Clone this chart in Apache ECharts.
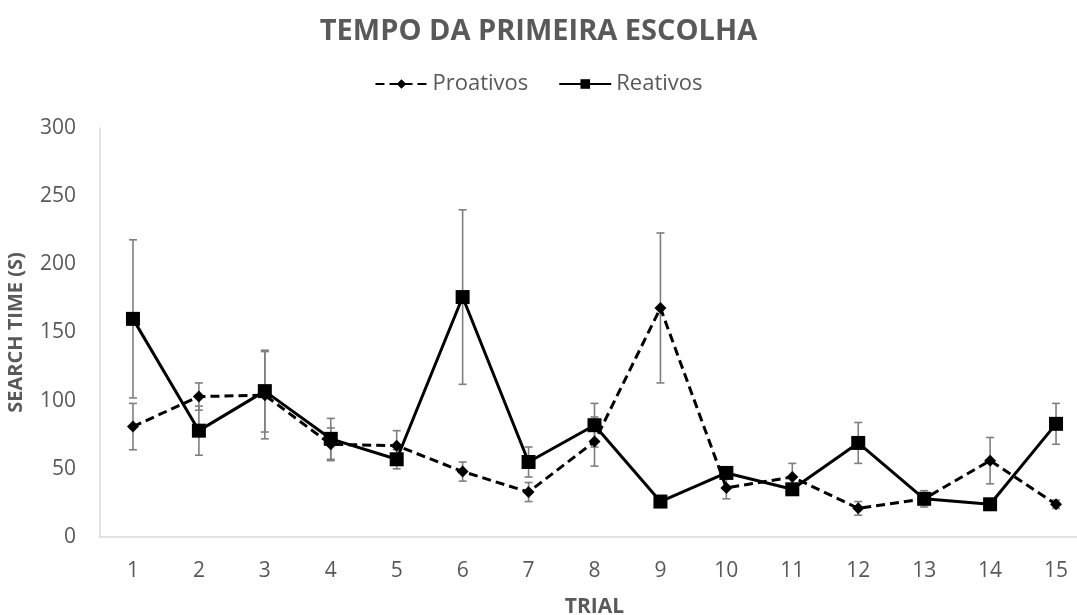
<!DOCTYPE html>
<html>
<head>
<meta charset="utf-8">
<title>Tempo da primeira escolha</title>
<script src="https://cdn.jsdelivr.net/npm/echarts@6/dist/echarts.min.js"></script>
<style>
  html, body { margin: 0; padding: 0; background: #fff; }
  #chart { width: 1077px; height: 615px; }
</style>
</head>
<body>
<div id="chart"></div>
<script>
// ── Data ──
const trials = ['1', '2', '3', '4', '5', '6', '7', '8', '9', '10', '11', '12', '13', '14', '15'];
const proativos = [81, 103, 104, 68, 67, 48, 33, 70, 168, 36, 44, 21, 28, 56, 24];
const proativosErr = [17, 10, 32, 12, 11, 7, 7, 18, 55, 8, 10, 5, 6, 17, 3];
const reativos = [160, 78, 107, 72, 57, 176, 55, 82, 26, 47, 35, 69, 28, 24, 83];
const reativosErr = [58, 18, 30, 15, 7, 64, 11, 16, 2, 3, 2, 15, 3, 2, 15];
const yTicks = [0, 50, 100, 150, 200, 250, 300];

const GRAY = '#595959';
const FONT = '"Open Sans", sans-serif';

// 误差线: [index, low, high]
function errData(vals, errs) {
  return vals.map((v, i) => [i, v - errs[i], v + errs[i]]);
}

function renderErr(params, api) {
  const lo = api.coord([api.value(0), api.value(1)]);
  const hi = api.coord([api.value(0), api.value(2)]);
  const cap = 4;
  const style = { stroke: '#7f7f7f', lineWidth: 1.6, fill: null };
  return {
    type: 'group',
    children: [
      { type: 'line', shape: { x1: hi[0], y1: hi[1], x2: lo[0], y2: lo[1] }, style },
      { type: 'line', shape: { x1: hi[0] - cap, y1: hi[1], x2: hi[0] + cap, y2: hi[1] }, style },
      { type: 'line', shape: { x1: lo[0] - cap, y1: lo[1], x2: lo[0] + cap, y2: lo[1] }, style },
    ],
  };
}

const chart = echarts.init(document.getElementById('chart'));

chart.setOption({
  animation: false,
  textStyle: { fontFamily: FONT },
  title: {
    text: 'TEMPO DA PRIMEIRA ESCOLHA',
    left: 'center',
    top: 12,
    textStyle: { color: GRAY, fontSize: 29, fontWeight: 'bold', fontFamily: FONT },
  },
  legend: {
    top: 68,
    left: 'center',
    itemWidth: 52,
    itemHeight: 12,
    itemGap: 30,
    textStyle: { color: GRAY, fontSize: 22, fontFamily: FONT },
    data: ['Proativos', 'Reativos'],
  },
  grid: { left: 100, right: -12, top: 128, bottom: 78, containLabel: false, outerBoundsMode: 'none' },
  xAxis: {
    type: 'category',
    data: trials,
    name: 'TRIAL',
    nameLocation: 'middle',
    nameGap: 60,
    nameTextStyle: { color: GRAY, fontSize: 21, fontWeight: 'bold', fontFamily: FONT },
    axisLine: { lineStyle: { color: '#d9d9d9', width: 1.5 } },
    axisTick: { show: false },
    axisLabel: { color: GRAY, fontSize: 21, margin: 24, fontFamily: FONT },
  },
  yAxis: {
    type: 'value',
    min: yTicks[0],
    max: yTicks[yTicks.length - 1],
    interval: 50,
    name: 'SEARCH TIME (S)',
    nameLocation: 'middle',
    nameRotate: 90,
    nameGap: 74,
    nameTextStyle: { color: GRAY, fontSize: 20, fontWeight: 'bold', fontFamily: FONT },
    axisLine: { show: true, lineStyle: { color: '#d9d9d9', width: 1.5 } },
    axisTick: { show: false },
    splitLine: { show: false },
    axisLabel: { color: GRAY, fontSize: 21, margin: 24, fontFamily: FONT },
  },
  series: [
    {
      name: 'Proativos',
      type: 'line',
      data: proativos,
      z: 3,
      symbol: 'diamond',
      symbolSize: 12,
      itemStyle: { color: '#000' },
      lineStyle: { color: '#000', width: 3, type: [9, 5] },
    },
    {
      name: 'Reativos',
      type: 'line',
      data: reativos,
      z: 4,
      symbol: 'rect',
      symbolSize: 14,
      itemStyle: { color: '#000' },
      lineStyle: { color: '#000', width: 3 },
    },
    {
      name: 'errP',
      type: 'custom',
      z: 2,
      data: errData(proativos, proativosErr),
      renderItem: renderErr,
      encode: { x: 0, y: [1, 2] },
      silent: true,
    },
    {
      name: 'errR',
      type: 'custom',
      z: 2,
      data: errData(reativos, reativosErr),
      renderItem: renderErr,
      encode: { x: 0, y: [1, 2] },
      silent: true,
    },
  ],
});
</script>
</body>
</html>
